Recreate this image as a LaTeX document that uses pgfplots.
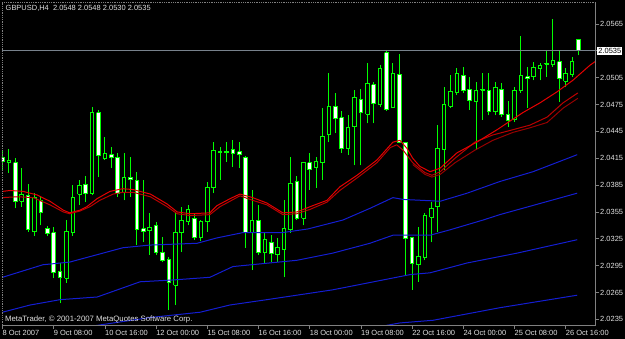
\documentclass[border=0pt]{standalone}
\usepackage{pgfplots}
\pgfplotsset{compat=1.18}
\usepackage{pgfplotstable}
\usepackage{fontspec}
\setmainfont{Liberation Sans}
\definecolor{mtgreen}{RGB}{0,255,0}
\definecolor{mtred}{RGB}{230,0,0}
\definecolor{mtred2}{RGB}{185,0,0}
\definecolor{mtred3}{RGB}{150,0,0}
\definecolor{mtblue}{RGB}{20,30,210}
\definecolor{mtgray}{RGB}{128,128,128}
\definecolor{pricegray}{RGB}{120,130,140}
\definecolor{mttext}{RGB}{225,225,225}

\pgfplotstableread{
i O H L C
0 2.0416 2.0424 2.0402 2.0411
1 2.0410 2.0425 2.0399 2.0413
2 2.0410 2.0415 2.0359 2.0367
3 2.0367 2.0404 2.0361 2.0374
4 2.0373 2.0386 2.0333 2.0335
5 2.0333 2.0376 2.0328 2.0371
6 2.0368 2.0372 2.0340 2.0354
7 2.0337 2.0339 2.0328 2.0331
8 2.0332 2.0338 2.0281 2.0287
9 2.0288 2.0298 2.0253 2.0282
10 2.0281 2.0346 2.0276 2.0333
11 2.0332 2.0385 2.0328 2.0371
12 2.0375 2.0391 2.0363 2.0385
13 2.0386 2.0395 2.0366 2.0376
14 2.0376 2.0472 2.0374 2.0466
15 2.0466 2.0469 2.0394 2.0418
16 2.0415 2.0439 2.0413 2.0420
17 2.0419 2.0428 2.0404 2.0416
18 2.0416 2.0421 2.0372 2.0376
19 2.0377 2.0421 2.0368 2.0394
20 2.0394 2.0416 2.0372 2.0391
21 2.0390 2.0400 2.0318 2.0335
22 2.0336 2.0391 2.0321 2.0333
23 2.0334 2.0354 2.0307 2.0338
24 2.0340 2.0344 2.0307 2.0310
25 2.0310 2.0327 2.0299 2.0301
26 2.0302 2.0305 2.0245 2.0276
27 2.0273 2.0354 2.0251 2.0332
28 2.0332 2.0361 2.0310 2.0345
29 2.0344 2.0363 2.0340 2.0358
30 2.0348 2.0354 2.0324 2.0326
31 2.0326 2.0346 2.0322 2.0344
32 2.0344 2.0389 2.0333 2.0382
33 2.0382 2.0433 2.0376 2.0424
34 2.0421 2.0428 2.0391 2.0422
35 2.0421 2.0433 2.0411 2.0423
36 2.0425 2.0435 2.0405 2.0420
37 2.0422 2.0433 2.0404 2.0419
38 2.0416 2.0418 2.0315 2.0332
39 2.0332 2.0380 2.0290 2.0346
40 2.0346 2.0363 2.0307 2.0310
41 2.0310 2.0332 2.0298 2.0324
42 2.0321 2.0329 2.0299 2.0309
43 2.0307 2.0326 2.0299 2.0315
44 2.0313 2.0368 2.0282 2.0337
45 2.0335 2.0416 2.0332 2.0387
46 2.0389 2.0395 2.0346 2.0348
47 2.0348 2.0411 2.0340 2.0410
48 2.0410 2.0421 2.0380 2.0402
49 2.0405 2.0416 2.0382 2.0411
50 2.0410 2.0471 2.0391 2.0439
51 2.0441 2.0510 2.0433 2.0473
52 2.0473 2.0488 2.0443 2.0459
53 2.0460 2.0468 2.0421 2.0426
54 2.0426 2.0463 2.0419 2.0449
55 2.0450 2.0491 2.0407 2.0483
56 2.0481 2.0492 2.0407 2.0466
57 2.0464 2.0521 2.0454 2.0498
58 2.0497 2.0500 2.0454 2.0476
59 2.0475 2.0519 2.0472 2.0515
60 2.0533 2.0536 2.0468 2.0470
61 2.0472 2.0521 2.0471 2.0510
62 2.0509 2.0532 2.0432 2.0433
63 2.0433 2.0433 2.0285 2.0325
64 2.0326 2.0327 2.0268 2.0297
65 2.0296 2.0338 2.0277 2.0305
66 2.0304 2.0354 2.0301 2.0351
67 2.0349 2.0366 2.0321 2.0359
68 2.0361 2.0452 2.0333 2.0426
69 2.0425 2.0495 2.0402 2.0475
70 2.0473 2.0508 2.0471 2.0490
71 2.0489 2.0516 2.0486 2.0510
72 2.0508 2.0517 2.0488 2.0491
73 2.0492 2.0506 2.0469 2.0479
74 2.0478 2.0500 2.0424 2.0491
75 2.0491 2.0510 2.0458 2.0492
76 2.0491 2.0510 2.0463 2.0467
77 2.0467 2.0500 2.0463 2.0494
78 2.0492 2.0499 2.0461 2.0464
79 2.0464 2.0479 2.0450 2.0457
80 2.0458 2.0495 2.0456 2.0491
81 2.0491 2.0552 2.0488 2.0508
82 2.0506 2.0517 2.0471 2.0504
83 2.0506 2.0523 2.0502 2.0516
84 2.0515 2.0521 2.0502 2.0519
85 2.0520 2.0535 2.0506 2.0521
86 2.0520 2.0571 2.0517 2.0524
87 2.0523 2.0536 2.0478 2.0504
88 2.0501 2.0516 2.0495 2.0510
89 2.0509 2.0528 2.0506 2.0523
90 2.0548 2.0548 2.0530 2.0535
}\candles

\begin{document}
\begin{tikzpicture}
\fill[black] (0,0) rectangle (625bp,339bp);
\begin{axis}[
  at={(2bp,14bp)}, anchor=south west,
  width=593bp, height=323bp, scale only axis,
  xmin=-0.08, xmax=92.58, ymin=2.02287, ymax=2.05896,
  axis line style={draw=none},
  clip mode=individual,
  xtick={0,8,16,24,32,40,48,56,64,72,80,88},
  xticklabels={8 Oct 2007,9 Oct 08:00,10 Oct 16:00,12 Oct 00:00,15 Oct 08:00,16 Oct 16:00,18 Oct 00:00,19 Oct 08:00,22 Oct 16:00,24 Oct 00:00,25 Oct 08:00,26 Oct 16:00},
  ytick={2.0235,2.0265,2.0295,2.0325,2.0355,2.0385,2.0415,2.0445,2.0475,2.0505,2.0535,2.0565},
  yticklabels={2.0235,2.0265,2.0295,2.0325,2.0355,2.0385,2.0415,2.0445,2.0475,2.0505,{},2.0565},
  xtick pos=left, ytick pos=right, yticklabel pos=right,
  tick align=outside,
  major tick length=4bp,
  tick style={mtgray, line width=0.8bp},
  ticklabel style={font=\fontsize{7.5}{9}\selectfont, text=mttext},
  xticklabel style={anchor=north west, xshift=-1bp, inner sep=1bp},
  yticklabel style={anchor=west, inner sep=1bp},
]
% candles
\pgfplotsforeachungrouped \k in {0,...,90}{%
  \pgfplotstablegetelem{\k}{i}\of\candles \let\vX\pgfplotsretval
  \pgfplotstablegetelem{\k}{O}\of\candles \let\vO\pgfplotsretval
  \pgfplotstablegetelem{\k}{H}\of\candles \let\vH\pgfplotsretval
  \pgfplotstablegetelem{\k}{L}\of\candles \let\vL\pgfplotsretval
  \pgfplotstablegetelem{\k}{C}\of\candles \let\vC\pgfplotsretval
  \pgfmathsetmacro\xa{\vX-0.28}%
  \pgfmathsetmacro\xb{\vX+0.28}%
  \pgfmathtruncatemacro\isbear{\vC<\vO ? 1 : 0}%
  \ifnum\isbear=1 \def\bodycol{white}\else\def\bodycol{black}\fi
  \edef\temp{%
    \noexpand\addplot[draw=mtgreen, line width=1bp] coordinates {(\vX,\vL) (\vX,\vH)};
    \noexpand\addplot[draw=mtgreen, fill=\bodycol, line width=1bp] coordinates {(\xa,\vO) (\xb,\vO) (\xb,\vC) (\xa,\vC) (\xa,\vO)};
  }\temp
}
% blue lines
\addplot[mtblue, line width=1bp] coordinates {(0,2.0282) (6.3,2.0296) (10.5,2.0299) (18.8,2.0315) (23.0,2.0318) (30.4,2.0320) (33.5,2.0326) (37.6,2.0332) (43.8,2.0332) (47.7,2.0336) (53.2,2.0346) (57.4,2.0359) (61.0,2.0371) (62.6,2.0369) (68.4,2.0367) (72.6,2.0376) (77.7,2.0389) (82.9,2.0400) (89.8,2.0419)};
\addplot[mtblue, line width=1bp] coordinates {(0,2.0243) (4.3,2.0251) (9.0,2.0257) (14.8,2.0260) (21.5,2.0277) (26.6,2.0279) (32.4,2.0282) (36.0,2.0294) (46.0,2.0301) (51.6,2.0309) (57.4,2.0320) (61.0,2.0329) (66.8,2.0329) (69.9,2.0335) (75.1,2.0346) (77.7,2.0352) (89.8,2.0376)};
\addplot[mtblue, line width=1bp] coordinates {(14.5,2.0228) (23.0,2.0237) (30.9,2.0243) (35.5,2.0251) (41.3,2.0257) (51.6,2.0268) (63.7,2.0285) (66.8,2.0287) (72.6,2.0298) (80.4,2.0309) (89.8,2.0324)};
\addplot[mtblue, line width=1bp] coordinates {(59.8,2.0228) (62.1,2.0231) (67.3,2.0234) (77.7,2.0248) (89.8,2.0262)};
% red lines
\addplot[mtred2, line width=1bp] coordinates {(0,2.0371) (2.3,2.0372) (4.8,2.0371) (7.4,2.0363) (9.5,2.0355) (10.5,2.0353) (12.1,2.0356) (13.7,2.0361) (15.2,2.0368) (17.3,2.0375) (18.8,2.0377) (20.4,2.0377) (23.1,2.0372) (25.7,2.0361) (27.3,2.0353) (29.3,2.0351) (32.4,2.0352) (34.0,2.0361) (37.1,2.0373) (39.1,2.0368) (41.3,2.0363) (43.8,2.0352) (46.0,2.0353) (48.1,2.0358) (50.7,2.0366) (52.7,2.0379) (55.4,2.0393) (58.5,2.0410) (60.6,2.0427) (61.6,2.0430) (62.6,2.0424) (64.1,2.0410) (66.0,2.0399) (67.1,2.0396) (68.4,2.0400) (70.7,2.0415) (73.8,2.0433) (76.6,2.0441) (79.8,2.0447) (82.4,2.0452) (85.1,2.0461) (87.6,2.0477) (89.9,2.0488)};
\addplot[mtred3, line width=1bp] coordinates {(64.1,2.0408) (66.0,2.0397) (67.1,2.0394) (68.4,2.0397) (70.7,2.0410) (73.8,2.0424) (76.6,2.0435) (79.8,2.0444) (82.4,2.0449) (85.1,2.0455) (87.6,2.0471) (89.9,2.0482)};
\addplot[mtred, line width=1bp] coordinates {(0,2.0378) (1.2,2.0379) (3.2,2.0378) (5.4,2.0374) (7.4,2.0367) (9.5,2.0357) (10.5,2.0354) (12.1,2.0357) (13.2,2.0361) (14.8,2.0370) (16.8,2.0378) (18.8,2.0381) (20.4,2.0380) (23.1,2.0375) (25.7,2.0364) (27.3,2.0355) (29.3,2.0353) (32.4,2.0354) (33.5,2.0362) (35.6,2.0370) (37.1,2.0375) (39.1,2.0371) (41.3,2.0365) (43.8,2.0354) (46.0,2.0355) (48.1,2.0361) (50.7,2.0368) (52.7,2.0383) (55.4,2.0396) (58.5,2.0413) (61.0,2.0433) (62.1,2.0435) (63.2,2.0426) (64.1,2.0415) (65.2,2.0406) (66.8,2.0400) (68.4,2.0404) (71.0,2.0421) (74.1,2.0433) (77.3,2.0447) (81.3,2.0466) (84.0,2.0477) (86.6,2.0489) (89.1,2.0502) (91.8,2.0519) (92.6,2.0523)};
% bid line
\addplot[pricegray, line width=1bp] coordinates {(-0.08,2.0535) (92.58,2.0535)};
\node[anchor=west, fill=white, text=black, inner sep=1.2bp, font=\fontsize{7.5}{9}\selectfont, xshift=2bp] at (axis cs:92.58,2.0535) {2.0535};
\end{axis}
% frame
\draw[mtgray, line width=0.8bp] (2bp,14bp) -- (595bp,14bp) -- (595bp,337bp);
\draw[mtgray, line width=0.8bp, densely dotted] (2bp,14bp) -- (2bp,337bp) -- (595bp,337bp);
% texts
\node[anchor=west, inner sep=0pt, text=mttext, font=\fontsize{7.5}{9}\selectfont] at (5.5bp,330.5bp) {GBPUSD,H4\ \ 2.0548 2.0548 2.0530 2.0535};
\node[anchor=west, inner sep=0pt, text=mttext, font=\fontsize{7.8}{9}\selectfont] at (5bp,20bp) {MetaTrader, \textcopyright{} 2001-2007 MetaQuotes Software Corp.};
\pgfresetboundingbox
\path (0,0) rectangle (625bp,339bp);
\end{tikzpicture}
\end{document}
